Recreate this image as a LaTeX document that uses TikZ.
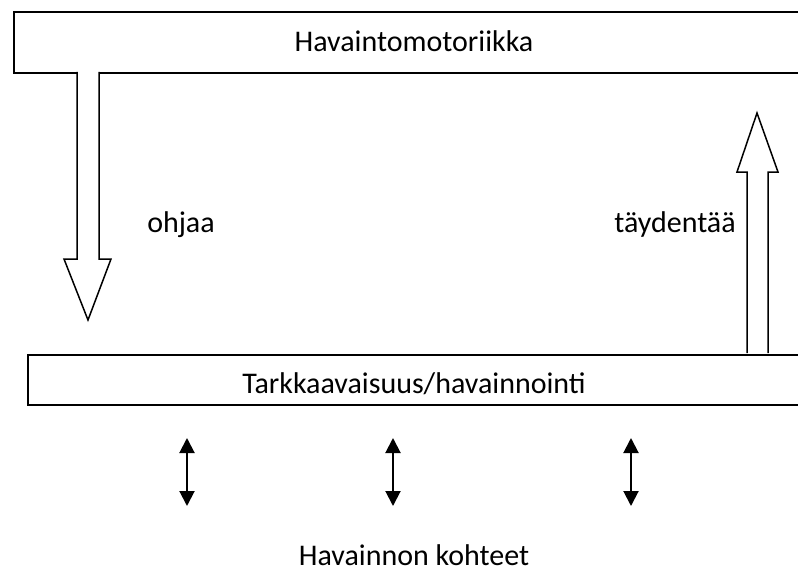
\documentclass[tikz,border=0pt]{standalone}
\usepackage{fontspec}
\setmainfont{Carlito}
\usetikzlibrary{arrows.meta}
\tikzset{
  boxshape/.style={draw=black, line width=2pt, rectangle, inner sep=0pt},
  lbl/.style={font=\fontsize{30}{34}\selectfont, inner sep=0pt, anchor=base},
  blockarrow/.style={draw=black, line width=1.5pt, fill=white, line join=miter},
  dblarrow/.style={line width=2pt, {Triangle[width=15pt,length=15pt]}-{Triangle[width=15pt,length=15pt]}}
}
\begin{document}
\begin{tikzpicture}[x=1pt,y=-1pt]
\useasboundingbox (0,0) rectangle (798,578);
\fill[white] (0,0) rectangle (798,578);
\clip (0,0) rectangle (798,578);
% boxes (extend beyond right edge)
\node[boxshape, minimum width=810pt, minimum height=61pt, anchor=north west] (topbox) at (13,11) {};
\node[boxshape, minimum width=800pt, minimum height=50pt, anchor=north west] (botbox) at (27,354) {};
% texts
\node[lbl] (toptext) at (414,52) {Havaintomotoriikka};
\node[lbl] (bottext) at (414,393) {Tarkkaavaisuus/havainnointi};
\node[lbl] (ohjaa) at (181,232) {ohjaa};
\node[lbl] (tayd) at (675,232) {täydentää};
\node[lbl] (kohteet) at (414,565) {Havainnon kohteet};
% block arrow down (ohjaa)
\draw[blockarrow] (77,72) -- (77,259) -- (64,259) -- (88,320) -- (111,259) -- (99,259) -- (99,72);
% block arrow up (taydentaa)
\draw[blockarrow] (747,353) -- (747,172) -- (737,172) -- (757,113) -- (778,172) -- (768,172) -- (768,353);
% double arrows
\coordinate (a1t) at (187,438); \coordinate (a1b) at (187,506);
\coordinate (a2t) at (393,438); \coordinate (a2b) at (393,506);
\coordinate (a3t) at (631,438); \coordinate (a3b) at (631,506);
\draw[dblarrow] (a1t) -- (a1b);
\draw[dblarrow] (a2t) -- (a2b);
\draw[dblarrow] (a3t) -- (a3b);
\end{tikzpicture}
\end{document}
